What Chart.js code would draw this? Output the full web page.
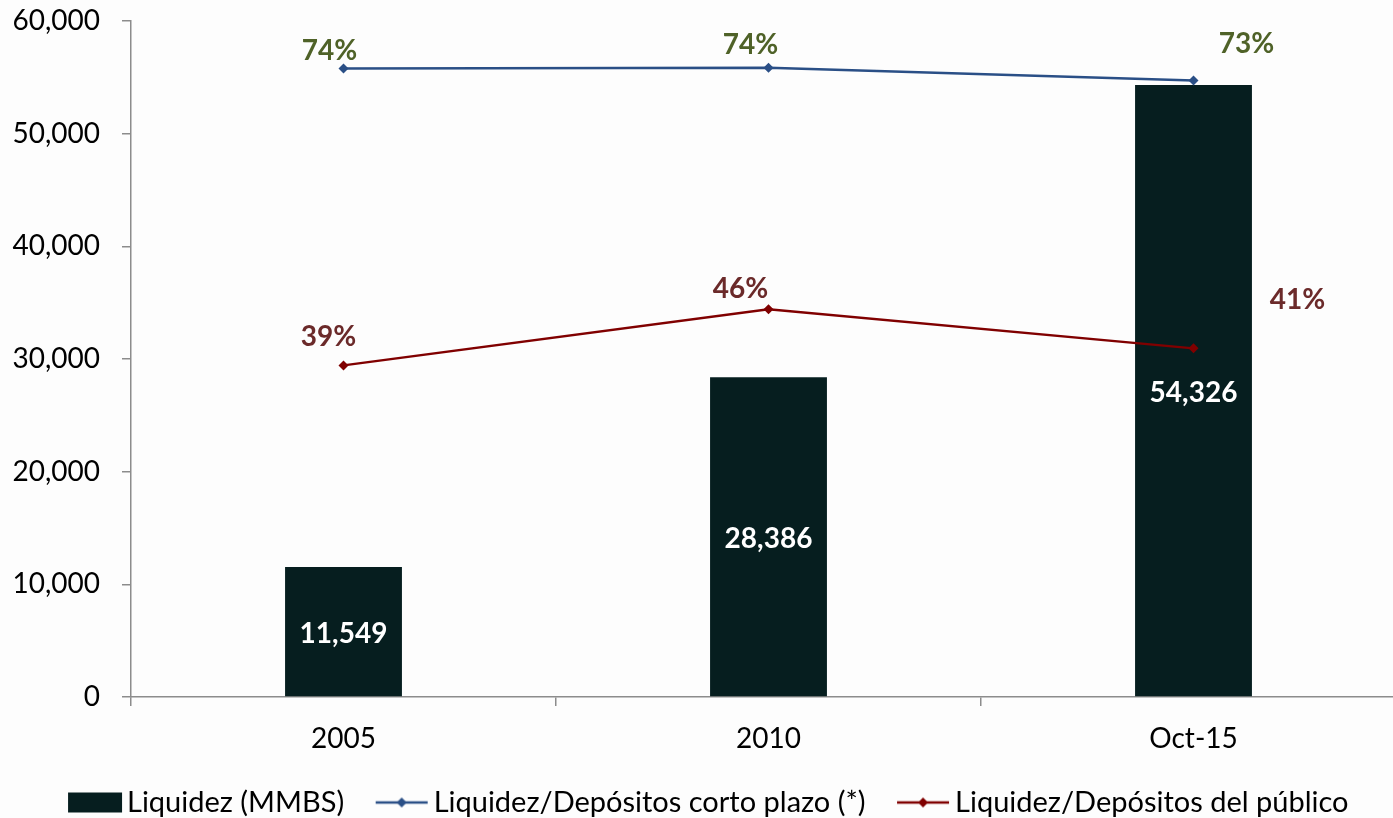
<!DOCTYPE html>
<html>
<head>
<meta charset="utf-8">
<script src="https://cdn.jsdelivr.net/npm/chart.js@4.4.1/dist/chart.umd.min.js"></script>
<style>
  html, body { margin: 0; padding: 0; background: #fdfdfd; overflow: hidden; }
  #wrap { width: 1424px; height: 827px; }
</style>
</head>
<body>
<div id="wrap"><canvas id="liqChart"></canvas></div>
<script>
// Datos
const categories = ["2005", "2010", "Oct-15"];
const liquidez = [11549, 28386, 54326];            // MMBS
const ratioCortoPlazo = [73.9, 74.0, 72.5];        // %
const ratioPublico = [39.0, 45.6, 41.0];           // %
const yTicks = [0, 10000, 20000, 30000, 40000, 50000, 60000];

const seriesNames = [
  "Liquidez (MMBS)",
  "Liquidez/Depósitos corto plazo (*)",
  "Liquidez/Depósitos del público"
];

// label nudges (px) relative to each point, as in the original
const offsCorto = [[-14, -18], [-18, -23], [53, -37]];
const offsPublico = [[-15, -28], [-28, -20], [104, -48]];

const FONT = "Lato, 'Noto Sans', sans-serif";
const BAR_COLOR = "#061e1f";
const BLUE = "#2a4f86";
const RED = "#800000";
const AXIS_GRAY = "#8c8c8c";

Chart.defaults.font.family = FONT;
Chart.defaults.color = "#000";

// legend markers drawn on small canvases (wider than the slot so the
// marker sits close to its text, like the Excel original)
function legendMarker(kind, color) {
  const c = document.createElement("canvas");
  c.width = 66;
  c.height = 22;
  const g = c.getContext("2d");
  if (kind === "bar") {
    g.fillStyle = color;
    g.fillRect(11, 1, 54, 20);
  } else {
    g.strokeStyle = color;
    g.lineWidth = 2.5;
    g.beginPath();
    g.moveTo(12, 11);
    g.lineTo(64, 11);
    g.stroke();
    g.fillStyle = color;
    g.beginPath();
    g.moveTo(38, 6);
    g.lineTo(43, 11);
    g.lineTo(38, 16);
    g.lineTo(33, 11);
    g.closePath();
    g.fill();
  }
  return c;
}
const markers = [
  legendMarker("bar", BAR_COLOR),
  legendMarker("line", BLUE),
  legendMarker("line", RED)
];

const valueLabels = {
  id: "valueLabels",
  afterDatasetsDraw(chart) {
    const ctx = chart.ctx;
    ctx.save();
    ctx.textAlign = "center";
    ctx.textBaseline = "middle";
    ctx.font = "bold 28px " + FONT;

    // bars: white value centred in the bar
    chart.getDatasetMeta(0).data.forEach((el, i) => {
      ctx.fillStyle = "#ffffff";
      ctx.fillText(liquidez[i].toLocaleString("en-US"), el.x, (el.y + el.base) / 2 + 2);
    });

    // ratio lines
    chart.getDatasetMeta(1).data.forEach((el, i) => {
      ctx.fillStyle = "#4f6228";
      ctx.fillText(Math.round(ratioCortoPlazo[i]) + "%", el.x + offsCorto[i][0], el.y + offsCorto[i][1]);
    });
    chart.getDatasetMeta(2).data.forEach((el, i) => {
      ctx.fillStyle = "#6b2a2a";
      ctx.fillText(Math.round(ratioPublico[i]) + "%", el.x + offsPublico[i][0], el.y + offsPublico[i][1]);
    });
    ctx.restore();
  }
};

// the original legend is centred on the whole picture, not on the plot
const legendShift = {
  id: "legendShift",
  afterLayout(chart) {
    chart.legend.left += 5;
    chart.legend.right += 5;
  }
};

new Chart(document.getElementById("liqChart"), {
  type: "bar",
  data: {
    labels: categories,
    datasets: [
      {
        label: seriesNames[0],
        data: liquidez,
        backgroundColor: BAR_COLOR,
        categoryPercentage: 1,
        barPercentage: 0.275,
        yAxisID: "y",
        order: 3
      },
      {
        type: "line",
        label: seriesNames[1],
        data: ratioCortoPlazo,
        borderColor: BLUE,
        backgroundColor: BLUE,
        borderWidth: 2.5,
        pointStyle: "rectRot",
        pointRadius: 5,
        pointBorderWidth: 0,
        yAxisID: "y2",
        order: 1
      },
      {
        type: "line",
        label: seriesNames[2],
        data: ratioPublico,
        borderColor: RED,
        backgroundColor: RED,
        borderWidth: 2.5,
        pointStyle: "rectRot",
        pointRadius: 5,
        pointBorderWidth: 0,
        yAxisID: "y2",
        order: 2
      }
    ]
  },
  options: {
    responsive: true,
    maintainAspectRatio: false,
    animation: false,
    layout: { padding: { top: 21, right: 18, bottom: 0, left: 0 } },
    scales: {
      x: {
        grid: { offset: true, drawOnChartArea: false, tickLength: 9, color: AXIS_GRAY, lineWidth: 1.5 },
        border: { color: AXIS_GRAY, width: 1.5 },
        ticks: { font: { size: 28 }, color: "#000", padding: 16 },
        afterFit: (s) => { s.height = 61; }
      },
      y: {
        position: "left",
        min: 0,
        max: 60000,
        afterBuildTicks: (s) => { s.ticks = yTicks.map((v) => ({ value: v })); },
        grid: { drawOnChartArea: false, tickLength: 9, color: AXIS_GRAY, lineWidth: 1.5 },
        border: { color: AXIS_GRAY, width: 1.5 },
        ticks: {
          font: { size: 28 },
          color: "#000",
          padding: 22,
          callback: (v) => v.toLocaleString("en-US")
        },
        afterFit: (s) => {
          s.width = 131;
          s.paddingTop = 0;
          s.paddingBottom = 0;
        }
      },
      y2: {
        display: false,
        min: 0,
        max: 79.5
      }
    },
    plugins: {
      tooltip: { enabled: false },
      legend: {
        position: "bottom",
        labels: {
          usePointStyle: true,
          pointStyleWidth: 45,
          boxHeight: 22,
          padding: 30,
          font: { size: 29 },
          color: "#000",
          generateLabels: () => seriesNames.map((name, i) => ({
            text: name,
            pointStyle: markers[i],
            datasetIndex: i,
            hidden: false,
            lineWidth: 0,
            fillStyle: "transparent",
            strokeStyle: "transparent"
          }))
        }
      }
    }
  },
  plugins: [valueLabels, legendShift]
});
</script>
</body>
</html>
